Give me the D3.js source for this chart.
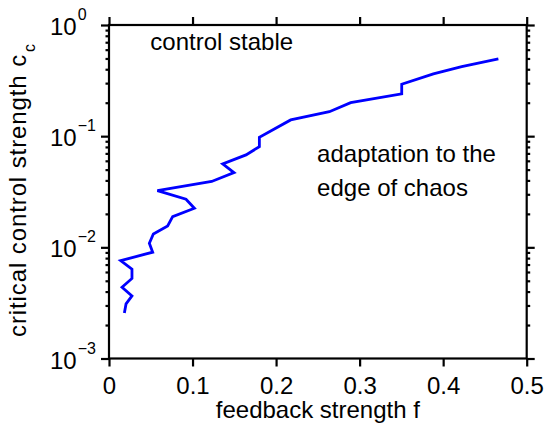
<!DOCTYPE html>
<html>
<head>
<meta charset="utf-8">
<script src="https://cdn.jsdelivr.net/npm/d3@7"></script>
<style>
  body { margin: 0; background: #fff; }
  text { font-family: "Liberation Sans", Arial, Helvetica, sans-serif; fill: #000; }
</style>
</head>
<body>
<div id="chart"></div>
<script>
var feedback = [0.0184, 0.0204, 0.0275, 0.0156, 0.0275, 0.0275, 0.0140, 0.0523, 0.0483, 0.0531,
    0.0702, 0.0762, 0.1022, 0.0922, 0.0579, 0.1229, 0.1496, 0.1361, 0.1640, 0.1800,
    0.1800, 0.2175, 0.2638, 0.2893, 0.3504, 0.3504, 0.3883, 0.4222, 0.4661];
var critical = [0.00256, 0.00310, 0.00366, 0.00438, 0.00525, 0.00636, 0.00760, 0.00904, 0.0109, 0.0132,
    0.0156, 0.0189, 0.0225, 0.0271, 0.0324, 0.0391, 0.0470, 0.0563, 0.0678, 0.0805,
    0.0977, 0.140, 0.166, 0.200, 0.240, 0.293, 0.363, 0.422, 0.495];
var xTicks = [0, 0.1, 0.2, 0.3, 0.4, 0.5];
var xTickLabels = ["0", "0.1", "0.2", "0.3", "0.4", "0.5"];
var yExponents = [-3, -2, -1, 0];
var yExponentLabels = ["\u22123", "\u22122", "\u22121", "0"];
var notes = [
    {f: 0.0495, c: 0.6, lines: ["control stable"]},
    {f: 0.2491, c: 0.058, lines: ["adaptation to the", "edge of chaos"]}
];

var width = 544,
    height = 423,
    margin = {top: 25, right: 17.3, bottom: 64.5, left: 109};

var chartWidth = width - margin.left - margin.right,
    chartHeight = height - margin.top - margin.bottom;

var svg = d3.select("#chart").append("svg")
    .attr("width", width)
    .attr("height", height);

var x = d3.scaleLinear().domain([0, 0.5]).range([0, chartWidth]);
var y = d3.scaleLog().domain([1e-3, 1]).range([chartHeight, 0]);

var majorY = yExponents.map(function(e){ return Math.pow(10, e); });
var minorY = [];
yExponents.slice(0, -1).forEach(function(e){
    for (var k = 2; k <= 9; k++) minorY.push(k * Math.pow(10, e));
});

var g = svg.append("g")
    .attr("transform", "translate(" + margin.left + "," + margin.top + ")");

function styleAxis(sel) {
    sel.select(".domain").remove();
    sel.selectAll("line").attr("stroke", "#000").attr("stroke-width", 2.2);
    sel.selectAll("text").style("font-size", "24px");
}

g.append("g")
    .attr("transform", "translate(0," + chartHeight + ")")
    .call(d3.axisBottom(x).tickValues(xTicks).tickSize(8).tickPadding(10)
        .tickFormat(function(d, i){ return xTickLabels[i]; }))
    .call(styleAxis)
    .selectAll("text").attr("fill", "#000");

g.append("g")
    .call(d3.axisTop(x).tickValues(xTicks).tickSize(8).tickFormat(""))
    .call(styleAxis);

g.append("g")
    .call(d3.axisLeft(y).tickValues(majorY).tickSize(8).tickFormat(""))
    .call(styleAxis);
g.append("g")
    .call(d3.axisLeft(y).tickValues(minorY).tickSize(3.5).tickFormat(""))
    .call(styleAxis);
g.append("g")
    .attr("transform", "translate(" + chartWidth + ",0)")
    .call(d3.axisRight(y).tickValues(majorY).tickSize(8).tickFormat(""))
    .call(styleAxis);
g.append("g")
    .attr("transform", "translate(" + chartWidth + ",0)")
    .call(d3.axisRight(y).tickValues(minorY).tickSize(3.5).tickFormat(""))
    .call(styleAxis);

// log labels as 10 with superscript exponent
var yLab = g.selectAll("text.ylab")
    .data(yExponents)
    .enter()
    .append("text")
    .attr("class", "ylab")
    .attr("x", -59)
    .attr("y", function(d){ return y(Math.pow(10, d)) + 10; });
yLab.append("tspan").style("font-size", "24px").text("10");
yLab.append("tspan")
    .style("font-size", "16px")
    .attr("dx", 1)
    .attr("dy", -15)
    .text(function(d, i){ return yExponentLabels[i]; });

g.append("rect")
    .attr("width", chartWidth)
    .attr("height", chartHeight)
    .attr("fill", "none")
    .attr("stroke", "#000")
    .attr("stroke-width", 2.2);

var line = d3.line()
    .x(function(d){ return x(d[0]); })
    .y(function(d){ return y(d[1]); });

g.append("path")
    .datum(feedback.map(function(f, i){ return [f, critical[i]]; }))
    .attr("d", line)
    .attr("fill", "none")
    .attr("stroke", "#0000ff")
    .attr("stroke-width", 2.8)
    .attr("stroke-linejoin", "miter");

notes.forEach(function(n){
    var t = g.append("text")
        .attr("x", x(n.f))
        .attr("y", y(n.c))
        .style("font-size", "24px");
    n.lines.forEach(function(s, i){
        t.append("tspan")
            .attr("x", x(n.f))
            .attr("dy", i === 0 ? 0 : 34)
            .text(s);
    });
});

svg.append("text")
    .attr("x", margin.left + chartWidth / 2)
    .attr("y", 418)
    .attr("text-anchor", "middle")
    .style("font-size", "24px")
    .text("feedback strength f");

var yTitle = svg.append("text")
    .attr("transform", "translate(26,337) rotate(-90)")
    .style("font-size", "24px")
    .style("letter-spacing", "0.9px");
yTitle.append("tspan").text("critical control strength c");
yTitle.append("tspan")
    .style("font-size", "16px")
    .attr("dx", 2)
    .attr("dy", 9)
    .text("c");
</script>
</body>
</html>
